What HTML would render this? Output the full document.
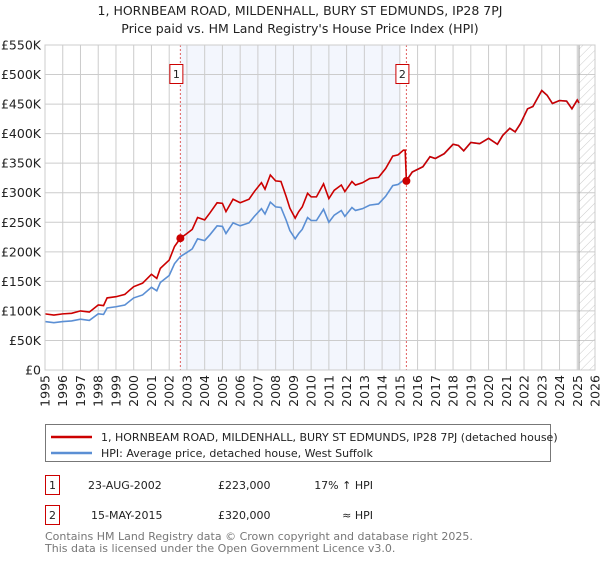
<!DOCTYPE html>
<html><head><meta charset="utf-8"><style>
body{margin:0;background:#fff;width:600px;height:560px;overflow:hidden;font-family:"Liberation Sans","DejaVu Sans",sans-serif}
svg text{font-family:"DejaVu Sans","Liberation Sans",sans-serif}
</style></head><body>
<svg id="chart" width="600" height="560" xmlns="http://www.w3.org/2000/svg">
<text x="300" y="15" text-anchor="middle" font-size="12.5" fill="#222">1, HORNBEAM ROAD, MILDENHALL, BURY ST EDMUNDS, IP28 7PJ</text>
<text x="300" y="33" text-anchor="middle" font-size="12.5" fill="#222">Price paid vs. HM Land Registry's House Price Index (HPI)</text>
<g id="plot"></g>
<g>
<rect x="45.5" y="424.5" width="505" height="37" fill="#fff" stroke="#777"/>
<line x1="51" y1="437" x2="92" y2="437" stroke="#cc0000" stroke-width="2.5"/>
<text x="101" y="441" font-size="11" fill="#222">1, HORNBEAM ROAD, MILDENHALL, BURY ST EDMUNDS, IP28 7PJ (detached house)</text>
<line x1="51" y1="453" x2="92" y2="453" stroke="#5b8fd4" stroke-width="2.5"/>
<text x="101" y="457" font-size="11" fill="#222">HPI: Average price, detached house, West Suffolk</text>
</g>
<g font-size="11" fill="#222">
<rect x="45.5" y="475.5" width="14" height="19" fill="#fff" stroke="#cc0000"/>
<text x="52.5" y="489" text-anchor="middle">1</text>
<text x="88" y="489">23-AUG-2002</text>
<text x="218" y="489">£223,000</text>
<text x="373" y="489" text-anchor="end">17% ↑ HPI</text>
</g>
<g font-size="11" fill="#222">
<rect x="45.5" y="505.5" width="14" height="19" fill="#fff" stroke="#cc0000"/>
<text x="52.5" y="519" text-anchor="middle">2</text>
<text x="91" y="519">15-MAY-2015</text>
<text x="218" y="519">£320,000</text>
<text x="373" y="519" text-anchor="end">≈ HPI</text>
</g>
<text x="45" y="540" font-size="11" fill="#777">Contains HM Land Registry data © Crown copyright and database right 2025.</text>
<text x="45" y="552" font-size="11" fill="#777">This data is licensed under the Open Government Licence v3.0.</text>
</svg>
<script>
const yTicks=[0,50,100,150,200,250,300,350,400,450,500,550];
const yTickLabels=["£0","£50K","£100K","£150K","£200K","£250K","£300K","£350K","£400K","£450K","£500K","£550K"];
const xYears=[1995,1996,1997,1998,1999,2000,2001,2002,2003,2004,2005,2006,2007,2008,2009,2010,2011,2012,2013,2014,2015,2016,2017,2018,2019,2020,2021,2022,2023,2024,2025,2026];
const redT=[1995,1995.5,1996,1996.5,1997,1997.5,1998,1998.3,1998.5,1999,1999.5,2000,2000.5,2001,2001.3,2001.5,2002,2002.3,2002.63,2003,2003.3,2003.6,2004,2004.3,2004.7,2005,2005.2,2005.6,2006,2006.5,2006.8,2007.2,2007.4,2007.7,2008,2008.3,2008.6,2008.8,2009.1,2009.3,2009.5,2009.8,2010,2010.3,2010.7,2011,2011.3,2011.7,2011.9,2012.3,2012.5,2012.9,2013.3,2013.8,2014.2,2014.6,2014.9,2015.2,2015.3,2015.37,2015.7,2016.3,2016.7,2017,2017.5,2018,2018.3,2018.6,2019,2019.5,2020,2020.5,2020.8,2021.2,2021.5,2021.8,2022.2,2022.5,2023,2023.3,2023.6,2024,2024.4,2024.7,2025,2025.1];
const redV=[95,93,95,96,100,98,110,109,122,124,128,141,147,162,155,172,186,209,223,231,238,258,254,266,283,282,268,289,283,289,302,317,306,330,320,319,293,274,257,268,276,299,293,293,315,290,304,313,302,319,313,317,324,326,341,362,364,372,372,320,335,344,361,358,366,382,380,371,385,383,392,382,397,409,403,417,442,446,473,465,451,456,455,442,457,452];
const hpiT=[1995,1995.5,1996,1996.5,1997,1997.5,1998,1998.3,1998.5,1999,1999.5,2000,2000.5,2001,2001.3,2001.5,2002,2002.3,2002.63,2003,2003.3,2003.6,2004,2004.3,2004.7,2005,2005.2,2005.6,2006,2006.5,2006.8,2007.2,2007.4,2007.7,2008,2008.3,2008.6,2008.8,2009.1,2009.3,2009.5,2009.8,2010,2010.3,2010.7,2011,2011.3,2011.7,2011.9,2012.3,2012.5,2012.9,2013.3,2013.8,2014.2,2014.6,2014.9,2015.2,2015.37,2015.7,2016.3,2016.7,2017,2017.5,2018,2018.3,2018.6,2019,2019.5,2020,2020.5,2020.8,2021.2,2021.5,2021.8,2022.2,2022.5,2023,2023.3,2023.6,2024,2024.4,2024.7,2025,2025.1];
const hpiV=[82,80,82,83,86,84,95,94,105,107,110,122,127,140,134,148,160,180,192,199,205,222,219,229,244,243,231,249,244,249,260,273,264,284,276,275,253,236,222,231,238,258,253,253,272,250,262,270,260,275,270,273,279,281,294,312,314,321,321,335,344,361,358,366,382,380,371,385,383,392,382,397,409,403,417,442,446,473,465,451,456,455,442,457,452];
const saleT=[2002.63,2015.37];
const saleV=[223,320];
const saleLabels=["1","2"];

const L=45,R=595,T=45,B=370,x0=1995,x1=2026,yMax=550;
const X=t=>L+(t-x0)/(x1-x0)*(R-L);
const Y=v=>B-v/yMax*(B-T);
const NS="http://www.w3.org/2000/svg";
const g=document.getElementById('plot');
function mk(tag,attrs){const e=document.createElementNS(NS,tag);for(const k in attrs)e.setAttribute(k,attrs[k]);g.appendChild(e);return e;}
// shaded span & hatched future
let e=mk('rect',{x:X(saleT[0]),y:T,width:X(2015.0)-X(saleT[0]),height:B-T,fill:'#eef2fc',opacity:0.7});


const defs=document.createElementNS(NS,'defs');defs.innerHTML='<pattern id="hatch" width="6" height="6" patternUnits="userSpaceOnUse" patternTransform="rotate(45)"><line x1="0" y1="0" x2="0" y2="6" stroke="#ccc" stroke-width="1"/></pattern>';g.appendChild(defs);
e=mk('rect',{x:X(2025.1),y:T,width:R-X(2025.1),height:B-T,fill:'url(#hatch)'});


// grid
yTicks.forEach((v,i)=>{
 let l=mk('line',{x1:L,x2:R,y1:Y(v),y2:Y(v),stroke:'#cccccc','stroke-width':1});
 
 
 let t=mk('text',{x:L-4,y:Y(v)+4.5,'text-anchor':'end','font-size':12.5,fill:'#222'});t.textContent=yTickLabels[i];
 
 
});
xYears.forEach(yr=>{
 let l=mk('line',{x1:X(yr),x2:X(yr),y1:T,y2:B,stroke:'#cccccc','stroke-width':1});
 
 
 let t=mk('text',{x:0,y:0,'text-anchor':'end','font-size':12.5,fill:'#222',transform:`translate(${X(yr)+4.5},${B+5}) rotate(-90)`});t.textContent=yr;
 
 
});
e=mk('line',{x1:X(2025.1),x2:X(2025.1),y1:T,y2:B,stroke:'#999','stroke-width':1});


// sale markers
saleT.forEach((t,i)=>{
 let l=mk('line',{x1:X(t),x2:X(t),y1:T,y2:B,stroke:'#e06060','stroke-width':1,'stroke-dasharray':'2,2'});
 
 
 let r=mk('rect',{x:X(t)-10.5,y:64.5,width:13,height:19,fill:'#fff',stroke:'#cc0000'});
 
 
 let tx=mk('text',{x:X(t)-4,y:78,'text-anchor':'middle','font-size':11,fill:'#222'});tx.textContent=saleLabels[i];
 
 
});
// lines
e=mk('polyline',{points:hpiT.map((t,i)=>X(t)+','+Y(hpiV[i])).join(' '),fill:'none',stroke:'#5b8fd4','stroke-width':1.6});


e=mk('polyline',{points:redT.map((t,i)=>X(t)+','+Y(redV[i])).join(' '),fill:'none',stroke:'#cc0000','stroke-width':1.6});


saleT.forEach((t,i)=>{
 let c=mk('circle',{cx:X(t),cy:Y(saleV[i]),r:4,fill:'#cc0000'});
 
 
});
e=mk('rect',{x:L,y:T,width:R-L,height:B-T,fill:'none',stroke:'#cccccc'});


</script>
</body></html>
